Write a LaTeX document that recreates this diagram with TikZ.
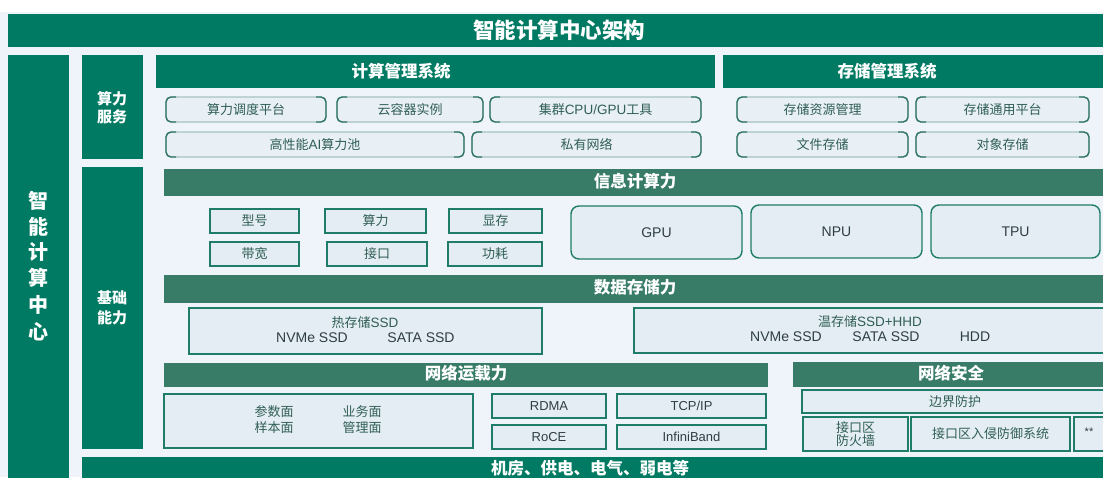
\documentclass[tikz,border=0pt]{standalone}
\usepackage{fontspec}
\setmainfont{Noto Sans CJK SC}
\newfontfamily\lat{Liberation Sans}
\definecolor{dkgreen}{RGB}{0,122,98}
\definecolor{hdgreen}{RGB}{56,124,104}
\definecolor{bg}{RGB}{239,244,250}
\definecolor{boxfill}{RGB}{228,237,243}
\definecolor{boxedge}{RGB}{30,124,104}
\definecolor{pillfill}{RGB}{232,240,245}
\definecolor{pilledge}{RGB}{110,154,144}
\definecolor{brkedge}{RGB}{47,116,102}
\definecolor{txt}{RGB}{48,94,87}
\definecolor{ltxt}{RGB}{45,62,68}
\newcommand\mkbox[7]{\node[#1,minimum width={#4-#2},minimum height={#5-#3}] (#6) at ({(#2+#4)/2},{(#3+#5)/2}) {#7};}
\newcommand\brk[1]{%
  \draw[brk] ([xshift=10pt]#1.north west) -- (#1.north west) -- (#1.south west) -- ([xshift=10pt]#1.south west);
  \draw[brk] ([xshift=-10pt]#1.north east) -- (#1.north east) -- (#1.south east) -- ([xshift=-10pt]#1.south east);}
\newcommand\lattxt[1]{{\lat\color{ltxt}#1}}
\begin{document}
\begin{tikzpicture}[x=1pt,y=-1pt,
  every node/.style={inner sep=0pt,outer sep=0pt},
  dk/.style={fill=dkgreen,draw=none},
  hd/.style={fill=hdgreen,draw=none},
  wt/.style={text=white,font=\bfseries\fontsize{16.5}{18}\selectfont},
  pill/.style={rounded corners=5pt,fill=pillfill,draw=pilledge,line width=0.8pt,text=txt,font=\fontsize{13}{15}\selectfont},
  brk/.style={rounded corners=5pt,draw=brkedge,line width=1.4pt},
  sq/.style={fill=boxfill,draw=boxedge,line width=1.4pt,text=txt,font=\fontsize{13}{15}\selectfont,align=center},
  rnd/.style={rounded corners=8pt,fill=boxfill,draw=boxedge,line width=1.4pt,text=ltxt,font=\lat\fontsize{14}{16}\selectfont},
  bt/.style={text=txt,font=\fontsize{13}{15}\selectfont},
  lt/.style={text=ltxt,font=\lat\fontsize{14}{16}\selectfont},
]
\useasboundingbox (0,0) rectangle (1103,477);
\clip (0,0) rectangle (1103,477);
\fill[bg] (0,0) rectangle (1103,477);
\fill[white] (0,0) rectangle (1103,12);

% title
\mkbox{dk}{8}{14}{1110}{47}{title}{}
\node[wt,font=\bfseries\fontsize{21.5}{24}\selectfont] (titletxt) at (559,30.5) {智能计算中心架构};

% left column
\mkbox{dk}{8}{55}{69}{485}{leftcol}{}
\foreach \c/\yy [count=\i] in {智/201,能/227,计/252,算/278,中/305,心/332}
  \node[wt,font=\bfseries\fontsize{20}{22}\selectfont] (lc\i) at (38.5,\yy) {\c};

% side labels
\mkbox{dk}{82}{55}{143}{159}{svc}{}
\node[wt,font=\bfseries\fontsize{15}{18}\selectfont,align=center] (svctxt) at (112,108) {算力\\服务};
\mkbox{dk}{82}{167}{143}{449}{base}{}
\node[wt,font=\bfseries\fontsize{15}{20}\selectfont,align=center] (basetxt) at (112,308) {基础\\能力};

% bottom banner
\mkbox{dk}{82}{457}{1110}{485}{floor}{}
\node[wt,anchor=west] (floortxt) at (491,468) {机房、供电、电气、弱电等};

% management headers
\mkbox{dk}{156}{55}{715}{88}{cmh}{}
\node[wt] (cmhtxt) at (401,71.5) {计算管理系统};
\mkbox{dk}{723}{55}{1110}{88}{smh}{}
\node[wt] (smhtxt) at (887,71.5) {存储管理系统};

% pills
\mkbox{pill}{166}{97}{326}{122}{p1}{算力调度平台}
\mkbox{pill}{337}{97}{483}{122}{p2}{云容器实例}
\mkbox{pill}{490}{97}{701}{122}{p3}{集群{\lat\fontsize{13.5}{15}\selectfont CPU/GPU}工具}
\mkbox{pill}{737}{97}{908}{122}{p4}{存储资源管理}
\mkbox{pill}{916}{97}{1089}{122}{p5}{存储通用平台}
\mkbox{pill}{166}{132}{464}{157}{p6}{高性能{\lat\fontsize{13.5}{15}\selectfont AI}算力池}
\mkbox{pill}{472}{132}{701}{157}{p7}{私有网络}
\mkbox{pill}{737}{132}{908}{157}{p8}{文件存储}
\mkbox{pill}{916}{132}{1089}{157}{p9}{对象存储}
\foreach \p in {p1,p2,p3,p4,p5,p6,p7,p8,p9} {\brk{\p}}

% info compute
\mkbox{hd}{164}{169}{1110}{196}{ich}{}
\node[wt] (ichtxt) at (635,181) {信息计算力};
\mkbox{sq}{210}{209}{299}{233}{b1}{型号}
\mkbox{sq}{325}{209}{426}{233}{b2}{算力}
\mkbox{sq}{449}{209}{542}{233}{b3}{显存}
\mkbox{sq}{210}{242}{299}{266}{b4}{带宽}
\mkbox{sq}{327}{242}{427}{266}{b5}{接口}
\mkbox{sq}{448}{242}{542}{266}{b6}{功耗}
\mkbox{rnd}{571}{206}{742}{259}{gpu}{GPU}
\mkbox{rnd}{751}{205}{922}{258}{npu}{NPU}
\mkbox{rnd}{931}{205}{1100}{258}{tpu}{TPU}

% data storage
\mkbox{hd}{164}{275}{1110}{303}{dsh}{}
\node[wt] (dshtxt) at (635,287) {数据存储力};
\mkbox{sq}{189}{308}{542}{354}{hot}{}
\node[bt] (hot1) at (365,323) {热存储{\lat\fontsize{13.5}{15}\selectfont SSD}};
\node[lt] (hot2) at (312,338) {NVMe SSD};
\node[lt] (hot3) at (421,338) {SATA SSD};
\mkbox{sq}{634}{308}{1110}{353}{warm}{}
\node[bt] (warm1) at (870,322) {温存储{\lat\fontsize{13.5}{15}\selectfont SSD+HHD}};
\node[lt] (warm2) at (786,337) {NVMe SSD};
\node[lt] (warm3) at (886,337) {SATA SSD};
\node[lt] (warm4) at (975,337) {HDD};

% network
\mkbox{hd}{164}{363}{768}{387}{nth}{}
\node[wt] (nthtxt) at (466,373.5) {网络运载力};
\mkbox{hd}{793}{362}{1110}{387}{nsh}{}
\node[wt] (nshtxt) at (951,373) {网络安全};
\mkbox{sq}{164}{394}{473}{448}{planes}{}
\node[bt] (pl1) at (274,412) {参数面};
\node[bt] (pl2) at (362,412) {业务面};
\node[bt] (pl3) at (274,428) {样本面};
\node[bt] (pl4) at (362,428) {管理面};
\mkbox{sq}{492}{394}{606}{418}{rdma}{\lattxt{RDMA}}
\mkbox{sq}{617}{394}{766}{418}{tcp}{\lattxt{TCP/IP}}
\mkbox{sq}{492}{425}{606}{449}{roce}{\lattxt{RoCE}}
\mkbox{sq}{617}{425}{766}{449}{ib}{\lattxt{InfiniBand}}
\mkbox{sq}{802}{390}{1110}{413}{edge}{}
\node[bt] (edgetxt) at (955,401.5) {边界防护};
\mkbox{sq}{803}{417}{908}{451}{fw}{接口区\\[-2pt]防火墙}
\mkbox{sq}{911}{417}{1070}{451}{ips}{接口区入侵防御系统}
\mkbox{sq}{1074}{417}{1110}{451}{more}{}
\node[lt,font=\lat\fontsize{11}{12}\selectfont] (moretxt) at (1089,432) {**};
\end{tikzpicture}
\end{document}
